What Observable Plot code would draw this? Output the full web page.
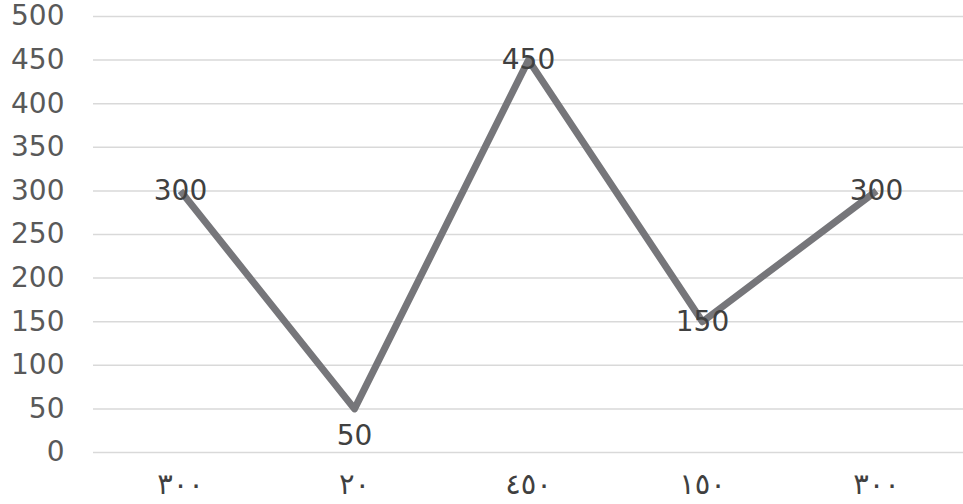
<!DOCTYPE html>
<html>
<head>
<meta charset="utf-8">
<script src="https://cdn.jsdelivr.net/npm/d3@7"></script>
<script src="https://cdn.jsdelivr.net/npm/@observablehq/plot@0.6"></script>
<style>
  html, body { margin: 0; padding: 0; background: #ffffff; }
  #chart svg { display: block; }
</style>
</head>
<body>
<div id="chart"></div>
<script>
const categories = ["٣٠٠", "٢٠", "٤٥٠", "١٥٠", "٣٠٠"];
const values = [300, 50, 450, 150, 300];
const yTicks = [0, 50, 100, 150, 200, 250, 300, 350, 400, 450, 500];

const data = values.map((v, i) => ({ i, v, label: categories[i] }));
const idx = data.map(d => d.i);
const minV = d3.min(values);

const chart = Plot.plot({
  width: 963,
  height: 504,
  marginLeft: 93,
  marginRight: 0,
  marginTop: 16,
  marginBottom: 52,
  style: { background: "#ffffff", fontFamily: "DejaVu Sans, sans-serif" },
  x: { type: "point", domain: idx, padding: 0.5, label: null },
  y: { domain: [0, 500], ticks: yTicks, label: null },
  marks: [
    Plot.ruleY(yTicks, { stroke: "#d9d9d9", strokeWidth: 1.5 }),
    Plot.axisY({ ticks: yTicks, tickSize: 0, tickPadding: 29, fontSize: 28, fill: "#595959", label: null }),
    Plot.axisX({ tickSize: 0, tickPadding: 21, fontSize: 29, fill: "#404040", tickFormat: i => categories[i], label: null }),
    Plot.line(data, { x: "i", y: "v", stroke: "#76767a", strokeWidth: 7, strokeLinejoin: "round", strokeLinecap: "butt" }),
    Plot.text(data.filter(d => d.v !== minV), { x: "i", y: "v", text: d => String(d.v), fontSize: 28, fill: "#404040", textAnchor: "middle" }),
    Plot.text(data.filter(d => d.v === minV), { x: "i", y: "v", text: d => String(d.v), fontSize: 28, fill: "#404040", textAnchor: "middle", dy: 27 })
  ]
});
document.getElementById("chart").appendChild(chart);
</script>
</body>
</html>
